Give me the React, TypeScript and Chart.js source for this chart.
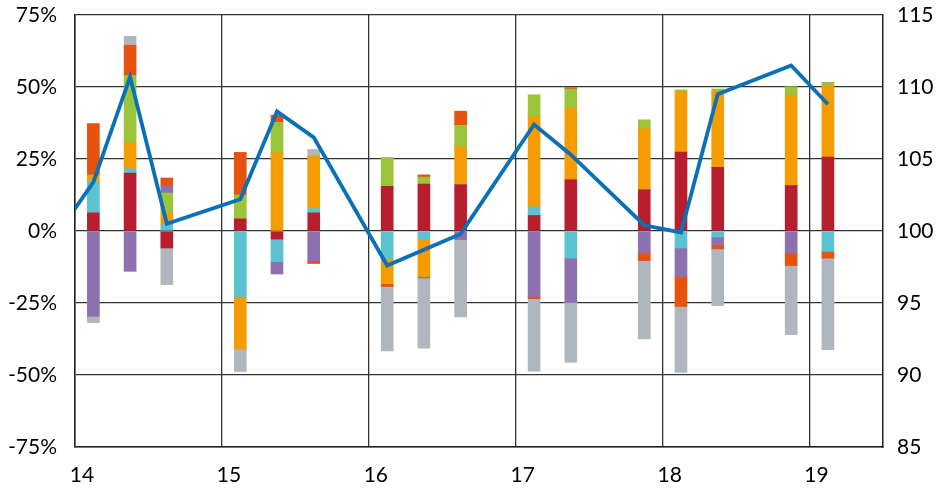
import React, { useEffect, useRef } from "react";
import { Chart, registerables } from "chart.js";

Chart.register(...registerables);

const barX = [14.125, 14.375, 14.625, 15.125, 15.375, 15.625, 16.125, 16.375, 16.625, 17.125, 17.375, 17.875, 18.125, 18.375, 18.875, 19.125];

const red = [6.3, 20.1, -5.9, 4.2, -2.8, 6.3, 15.5, 16.3, 16.1, 5.4, 17.8, 14.3, 27.4, 22.1, 15.8, 25.7];
const cyan = [10.8, 1.5, 2.2, -22.9, -7.8, 1.5, -9.7, -2.8, 0, 3.0, -9.4, 0, -5.9, -2.1, 0, -7.1];
const orange = [2.3, 9.0, 4.1, -18.1, 27.1, 18.2, -8.6, -13.0, 13.3, 31.4, 24.9, 21.2, 21.0, 26.4, 31.3, 24.8];
const green = [0, 23.4, 6.9, 8.3, 10.6, 0, 9.9, 2.4, 7.3, 7.5, 6.6, 3.1, 0.6, 0.8, 3.0, 1.1];
const purple = [-29.7, -14.0, 2.5, 0, -4.3, -10.3, 0, -0.5, -3.0, -22.7, -15.4, -7.6, -9.9, -2.7, -7.6, 0];
const orangeRed = [17.9, 10.5, 2.7, 14.8, 2.5, -1.0, -1.0, 0.8, 4.9, -0.8, 0.5, -2.7, -10.4, -1.4, -4.4, -2.3];
const gray = [-2.1, 3.1, -12.7, -7.8, 0, 2.3, -22.3, -24.4, -26.8, -25.2, -20.8, -27.2, -22.9, -19.7, -24.0, -31.8];

const lineX = [13.875, 14.125, 14.375, 14.625, 15.125, 15.375, 15.625, 16.125, 16.375, 16.625, 17.125, 17.375, 17.875, 18.125, 18.375, 18.875, 19.125];
const lineY = [99.7, 103.4, 110.7, 100.5, 102.2, 108.3, 106.5, 97.6, 98.7, 99.8, 107.4, 105.3, 100.4, 99.9, 109.5, 111.5, 108.8];

const yearTicks = [14, 15, 16, 17, 18, 19];

const FONT = "Lato, 'Open Sans', sans-serif";

export default function App() {
  const ref = useRef<HTMLCanvasElement | null>(null);

  useEffect(() => {
    document.body.style.margin = "0";
    const canvas = ref.current;
    if (!canvas) return;

    const mk = (label: string, arr: number[], color: string) => ({
      type: "bar" as const,
      label,
      data: barX.map((x, i) => ({ x, y: arr[i] })),
      backgroundColor: color,
      borderWidth: 0,
      barThickness: 12,
      yAxisID: "y",
      stack: "s",
      order: 1,
    });

    const fitV = (w: number) => (scale: any) => {
      scale.width = w;
      scale.paddingTop = 0;
      scale.paddingBottom = 0;
    };

    const chart = new Chart(canvas, {
      type: "bar",
      data: {
        datasets: [
          {
            type: "line" as const,
            label: "index",
            data: lineX.map((x, i) => ({ x, y: lineY[i] })),
            borderColor: "#0a70b8",
            borderWidth: 3.8,
            pointRadius: 0,
            tension: 0,
            fill: false,
            yAxisID: "y2",
            stack: "line",
            order: 0,
            clip: 0,
          } as any,
          mk("red", red, "#b81f2e"),
          mk("cyan", cyan, "#5bc2d0"),
          mk("orange", orange, "#f59c00"),
          mk("green", green, "#9bc43a"),
          mk("purple", purple, "#8d70b0"),
          mk("orangered", orangeRed, "#e8520f"),
          mk("gray", gray, "#b0b6bd"),
        ],
      },
      options: {
        responsive: false,
        animation: false,
        layout: { padding: { top: 15, left: 0, right: 0, bottom: 0 } },
        plugins: { legend: { display: false }, tooltip: { enabled: false } },
        scales: {
          x: {
            type: "linear",
            min: 14,
            max: 19.5,
            offset: false,
            stacked: true,
            afterBuildTicks: (scale: any) => {
              scale.ticks = yearTicks.map((v) => ({ value: v }));
            },
            afterFit: (scale: any) => {
              scale.height = 43;
              scale.paddingLeft = 0;
              scale.paddingRight = 0;
            },
            grid: { color: "#333", lineWidth: 1.3, drawTicks: false, offset: false },
            border: { display: true, color: "#222", width: 1.5 },
            ticks: {
              color: "#000",
              font: { family: FONT, size: 21 },
              padding: 16,
              labelOffset: 7,
              callback: (v: any) => String(v),
            },
          },
          y: {
            type: "linear",
            position: "left",
            min: -75,
            max: 75,
            stacked: true,
            afterFit: fitV(75),
            grid: { color: "#333", lineWidth: 1.3, drawTicks: false },
            border: { display: true, color: "#222", width: 1.5 },
            ticks: {
              stepSize: 25,
              color: "#000",
              font: { family: FONT, size: 21 },
              padding: 18,
              callback: (v: any) => `${v}%`,
            },
          },
          y2: {
            type: "linear",
            position: "right",
            min: 85,
            max: 115,
            afterFit: fitV(60),
            grid: { display: false, drawTicks: false },
            border: { display: true, color: "#222", width: 1.5 },
            ticks: {
              stepSize: 5,
              color: "#000",
              font: { family: FONT, size: 21 },
              padding: 14,
            },
          },
        },
      } as any,
    });

    return () => chart.destroy();
  }, []);

  return (
    <div style={{ width: 943, height: 490 }}>
      <canvas ref={ref} width={943} height={490} style={{ display: "block" }} />
    </div>
  );
}
